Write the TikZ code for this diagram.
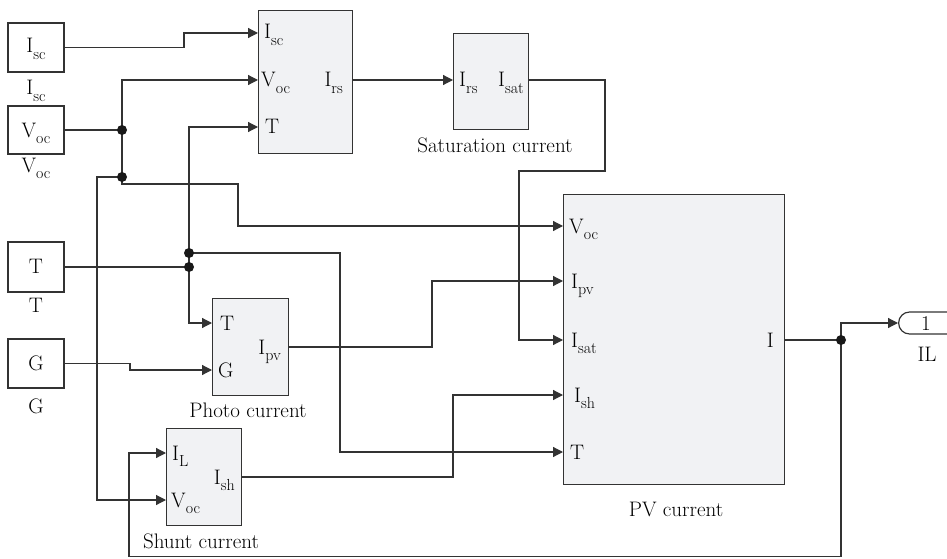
\documentclass[tikz,border=0pt]{standalone}
\usepackage{fontspec}
\usetikzlibrary{arrows.meta}
\definecolor{wirec}{HTML}{333333}
\definecolor{blkfill}{HTML}{F1F2F4}
\newcommand\sbx[2]{#1\raisebox{-0.3em}{\fontsize{16}{17}\selectfont #2}}
\tikzset{
  wire/.style={draw=wirec, line width=1.2pt},
  arr/.style={wire, -{Triangle[length=10pt,width=10pt]}},
  srcbox/.style={draw=wirec, line width=1.2pt, fill=white, inner sep=0pt},
  blk/.style={draw=wirec, line width=1.2pt, fill=blkfill, inner sep=0pt, anchor=north west},
  lbl/.style={inner sep=0pt, font=\fontsize{21}{24}\selectfont, text=black},
  jdot/.style={circle, fill=black!90, inner sep=0pt, minimum size=10pt},
  outp/.style={draw=wirec, line width=1.2pt, fill=white, rounded corners=11pt, inner sep=0pt}
}
\begin{document}
\begin{tikzpicture}[x=1pt,y=-1pt]
\useasboundingbox (0,0) rectangle (947,559);
% source boxes
\node[srcbox, minimum width=56pt, minimum height=49pt] (isc) at (36,47.5) {};
\node[srcbox, minimum width=56pt, minimum height=48pt] (voc) at (36,130) {};
\node[srcbox, minimum width=56pt, minimum height=50pt] (tsrc) at (36,267) {};
\node[srcbox, minimum width=56pt, minimum height=49pt] (gsrc) at (36,363.5) {};
\node[lbl, anchor=base] (isct) at (36,53) {\sbx{I}{sc}};
\node[lbl, anchor=base] (iscl) at (36,95) {\sbx{I}{sc}};
\node[lbl, anchor=base] (voct) at (36,137) {\sbx{V}{oc}};
\node[lbl, anchor=base] (vocl) at (36,172) {\sbx{V}{oc}};
\node[lbl, anchor=base] (tt) at (36,273) {T};
\node[lbl, anchor=base] (tl) at (36,312) {T};
\node[lbl, anchor=base] (gt) at (36,370) {G};
\node[lbl, anchor=base] (gl) at (36,413) {G};
% blocks
\node[blk, minimum width=94pt, minimum height=143pt] (irs) at (258,10) {};
\node[blk, minimum width=75pt, minimum height=96pt] (sat) at (453,33) {};
\node[blk, minimum width=221pt, minimum height=290pt] (pv) at (563,194) {};
\node[blk, minimum width=76pt, minimum height=97pt] (pho) at (212,298) {};
\node[blk, minimum width=75pt, minimum height=97pt] (shu) at (166,428) {};
\node[outp, minimum width=70pt, minimum height=22pt, anchor=west] (il) at (898,323) {};
\node[lbl, anchor=base] (ilt) at (926,330) {1};
\node[lbl, anchor=base] (ill) at (927,361) {IL};
% port labels
\node[lbl, anchor=base west] (irsl1) at (264,39) {\sbx{I}{sc}};
\node[lbl, anchor=base west] (irsl2) at (261,87) {\sbx{V}{oc}};
\node[lbl, anchor=base west] (irsl3) at (265,134) {T};
\node[lbl, anchor=base east] (irsl4) at (343,87) {\sbx{I}{rs}};
\node[lbl, anchor=base west] (satl1) at (459,87) {\sbx{I}{rs}};
\node[lbl, anchor=base east] (satl2) at (524,87) {\sbx{I}{sat}};
\node[lbl, anchor=base] (satn) at (495,153) {Saturation current};
\node[lbl, anchor=base west] (pvl1) at (569,233) {\sbx{V}{oc}};
\node[lbl, anchor=base west] (pvl2) at (571,288) {\sbx{I}{pv}};
\node[lbl, anchor=base west] (pvl3) at (571,347) {\sbx{I}{sat}};
\node[lbl, anchor=base west] (pvl4) at (574,402) {\sbx{I}{sh}};
\node[lbl, anchor=base west] (pvl5) at (570,459) {T};
\node[lbl, anchor=base east] (pvl6) at (774,347) {I};
\node[lbl, anchor=base] (pvn) at (676,516) {PV current};
\node[lbl, anchor=base west] (phol1) at (220,330) {T};
\node[lbl, anchor=base west] (phol2) at (218,377) {G};
\node[lbl, anchor=base east] (phol3) at (281,354) {\sbx{I}{pv}};
\node[lbl, anchor=base] (phon) at (248,417) {Photo current};
\node[lbl, anchor=base west] (shul1) at (172,460) {\sbx{I}{L}};
\node[lbl, anchor=base west] (shul2) at (171,507) {\sbx{V}{oc}};
\node[lbl, anchor=base east] (shul3) at (235,484) {\sbx{I}{sh}};
\node[lbl, anchor=base] (shun) at (201,548) {Shunt current};
% ports
\coordinate (irs-in1) at (258,33);
\coordinate (irs-in2) at (258,80);
\coordinate (irs-in3) at (258,127);
\coordinate (irs-out) at (352,80);
\coordinate (sat-in) at (453,80);
\coordinate (sat-out) at (528,80);
\coordinate (pv-in1) at (563,226);
\coordinate (pv-in2) at (563,281);
\coordinate (pv-in3) at (563,340);
\coordinate (pv-in4) at (563,395);
\coordinate (pv-in5) at (563,452);
\coordinate (pv-out) at (784,340);
\coordinate (pho-in1) at (212,323);
\coordinate (pho-in2) at (212,370);
\coordinate (pho-out) at (288,347);
\coordinate (shu-in1) at (166,453);
\coordinate (shu-in2) at (166,500);
\coordinate (shu-out) at (241,477);
% junctions
\coordinate (j1) at (122,130);
\coordinate (j2) at (122,177);
\coordinate (j3) at (189,253);
\coordinate (j4) at (189,267);
\coordinate (j5) at (841,340);
% wires
\draw[arr] (isc.east) -- (184,47.5) -- (184,33) -- (irs-in1);
\draw[wire] (voc.east) -- (j1);
\draw[arr] (j2) -- (j1) |- (irs-in2);
\draw[arr] (j2) -- (122,184) -| (238,226) -- (pv-in1);
\draw[arr] (j2) -- (97,177) |- (shu-in2);
\draw[wire] (tsrc.east) -- (j4);
\draw[arr] (j4) |- (pho-in1);
\draw[arr] (j4) -- (j3) |- (irs-in3);
\draw[arr] (j3) -- (340,253) |- (pv-in5);
\draw[arr] (gsrc.east) -- (130,363.5) |- (pho-in2);
\draw[arr] (irs-out) -- (sat-in);
\draw[arr] (sat-out) -| (605,171) -| (519,340) -- (pv-in3);
\draw[arr] (pho-out) -| (432,281) -- (pv-in2);
\draw[arr] (shu-out) -| (453,395) -- (pv-in4);
\draw[wire] (pv-out) -- (j5);
\draw[arr] (j5) |- (il.west);
\draw[arr] (j5) -- (841,556.5) -| (129,453) -- (shu-in1);
% junction dots
\foreach \j in {j1,j2,j3,j4,j5} \node[jdot] (d\j) at (\j) {};
\end{tikzpicture}
\end{document}
